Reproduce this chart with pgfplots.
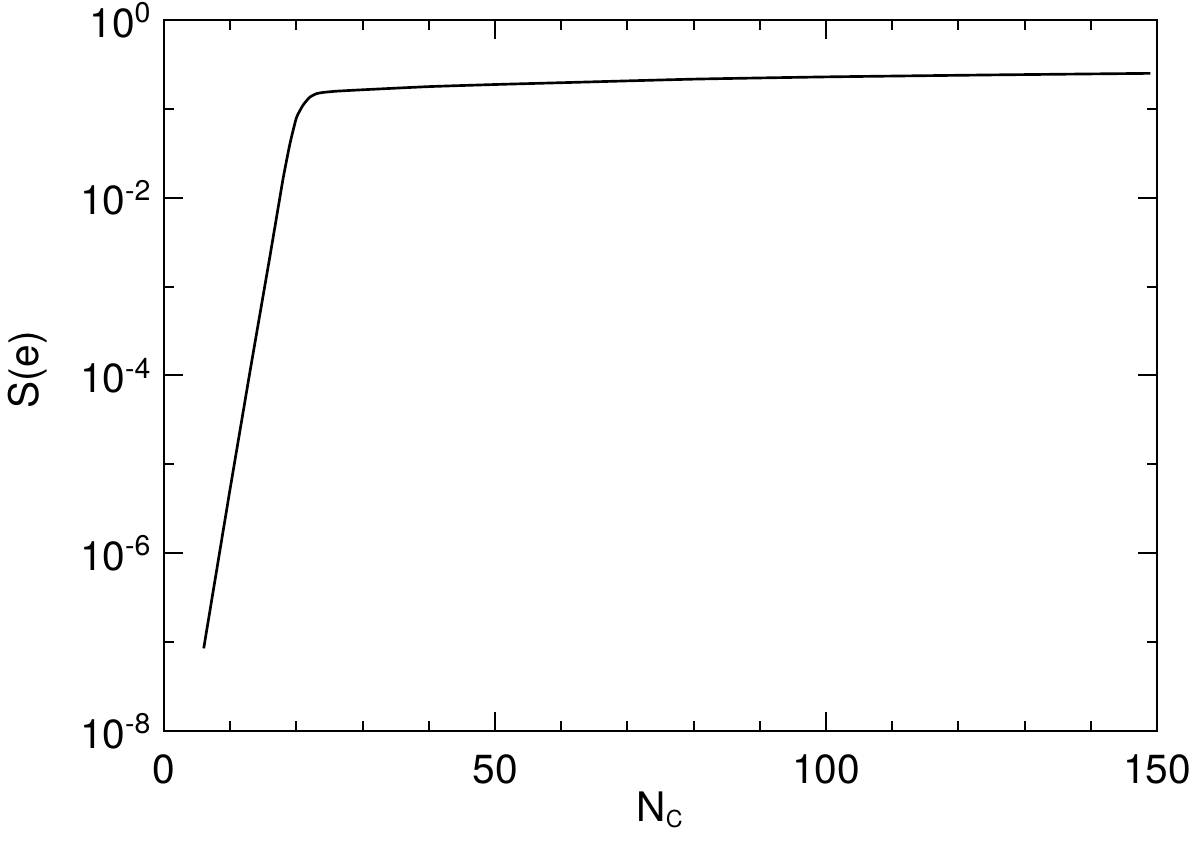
\documentclass[border=0pt]{standalone}
\usepackage{fontspec}
\setmainfont{TeX Gyre Heros}
\usepackage{pgfplots}
\pgfplotsset{compat=1.18}
\usetikzlibrary{calc}
\begin{document}
\begin{tikzpicture}
\begin{axis}[
  scale only axis,
  width=297.9pt, height=213.3pt,
  xmin=0, xmax=150,
  ymode=log, ymin=1e-8, ymax=1,
  axis line style={line width=0.6pt},
  xtick={0,50,100,150},
  minor x tick num=4,
  ytick={1e-8,1e-6,1e-4,1e-2,1},
  yticklabels={10\textsuperscript{-8},10\textsuperscript{-6},10\textsuperscript{-4},10\textsuperscript{-2},10\textsuperscript{0}},
  minor ytick={1e-7,1e-5,1e-3,1e-1},
  xtick pos=both, ytick pos=both,
  xticklabel pos=lower, yticklabel pos=left,
  tick align=inside,
  major tick length=5.7pt, minor tick length=3pt,
  every tick/.style={line width=0.6pt, black},
  tick label style={font=\fontsize{12.2}{14}\selectfont},
  xticklabel style={yshift=-3.7pt},
  /pgf/number format/assume math mode=true,
  xlabel={N\textsubscript{\scriptsize C}},
  ylabel={S(e)},
  label style={font=\fontsize{12.2}{14}\selectfont},
  xlabel style={at={(axis description cs:0.5,0)}, anchor=center, yshift=-23.7pt},
  ylabel style={at={(axis description cs:0,0.508)}, anchor=center, rotate=0, yshift=41pt},
]
\addplot[black, line width=0.8pt, smooth, tension=0.3] coordinates {
(6,8.51e-8) (7,2.40e-7) (8,6.76e-7) (9,1.91e-6) (10,5.37e-6) (11,1.48e-5)
(12,4.07e-5) (13,1.12e-4) (14,3.02e-4) (15,8.13e-4) (16,2.19e-3) (17,6.03e-3)
(18,1.66e-2) (19,3.98e-2) (20,7.94e-2) (21,0.110) (22,0.135) (23,0.148)
(24,0.153) (26,0.158) (30,0.164) (40,0.178) (50,0.188) (60,0.197)
(80,0.216) (100,0.229) (125,0.241) (149,0.251)
};
\end{axis}
\pgfresetboundingbox
\path[use as bounding box] ($(current axis.south west)+(-49.2pt,-33.6pt)$) rectangle ($(current axis.north east)+(12.9pt,6pt)$);
\end{tikzpicture}
\end{document}
